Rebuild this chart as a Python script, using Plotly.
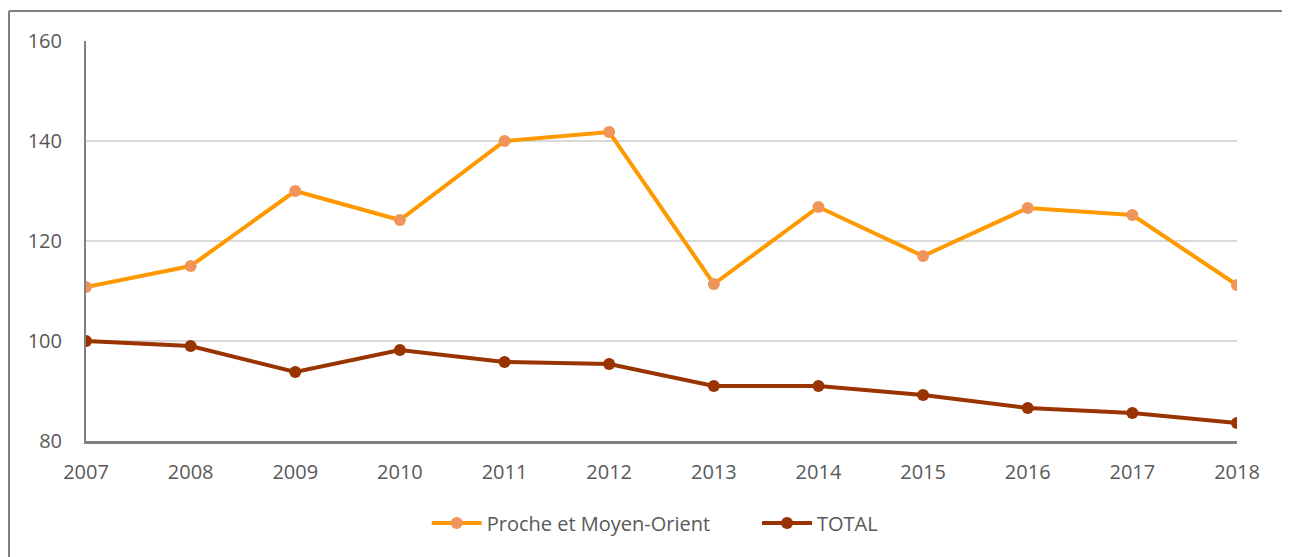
import plotly.graph_objects as go

years = list(range(2007, 2019))
pmo = [110.8, 115.0, 130.0, 124.2, 140.0, 141.8, 111.4, 126.8, 117.0, 126.6, 125.2, 111.2]
total = [100.0, 99.0, 93.8, 98.2, 95.8, 95.4, 91.0, 91.0, 89.2, 86.6, 85.6, 83.6]

fig = go.Figure()
fig.add_trace(go.Scatter(
    x=years, y=pmo, name="Proche et Moyen-Orient", mode="lines+markers",
    line=dict(color="#FF9900", width=4),
    marker=dict(color="#F0955A", size=12),
    legend="legend",
))
fig.add_trace(go.Scatter(
    x=years, y=total, name="TOTAL", mode="lines+markers",
    line=dict(color="#993300", width=4),
    marker=dict(color="#993300", size=12),
    legend="legend2",
))

# chart frame: only left and top edges are visible in the reference
fig.add_shape(type="line", xref="paper", yref="paper", x0=-0.0669, x1=-0.0669, y0=-0.30, y1=1.075,
              line=dict(color="#808080", width=2))
fig.add_shape(type="line", xref="paper", yref="paper", x0=-0.0669, x1=1.06, y0=1.075, y1=1.075,
              line=dict(color="#808080", width=2))

legend_style = dict(orientation="h", y=-0.205, yanchor="middle", xanchor="left",
                    font=dict(size=20, color="#595959"), itemwidth=50,
                    bgcolor="rgba(0,0,0,0)")

fig.update_layout(
    width=1282, height=549,
    margin=dict(l=78, r=53, t=33, b=116),
    paper_bgcolor="white", plot_bgcolor="white",
    font=dict(family="Open Sans, Liberation Sans, sans-serif", size=20, color="#595959"),
    showlegend=True,
    legend=dict(x=0.296, **legend_style),
    legend2=dict(x=0.583, **legend_style),
    xaxis=dict(range=[2007, 2018], tickmode="array", tickvals=years,
               showgrid=False, showline=True, linecolor="#808080", linewidth=2.5,
               ticks="", zeroline=False, ticklabelstandoff=11),
    yaxis=dict(range=[80, 160], tickvals=[80, 100, 120, 140, 160],
               showgrid=True, gridcolor="#D9D9D9", gridwidth=1.5,
               showline=True, linecolor="#808080", linewidth=2,
               ticks="", zeroline=False, ticklabelstandoff=18),
)

fig.write_html("out.html")
